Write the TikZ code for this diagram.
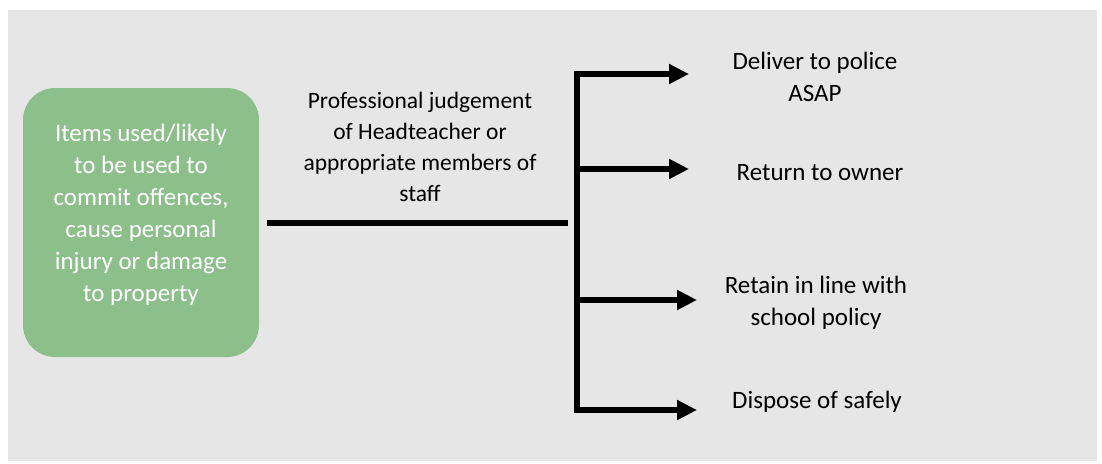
\documentclass[tikz,border=0pt]{standalone}
\usepackage{fontspec}
\setmainfont{Carlito}
\usetikzlibrary{arrows.meta}
\definecolor{bggray}{HTML}{E6E6E6}
\definecolor{boxgreen}{HTML}{8DBF8B}
\tikzset{
  txt/.style={font=\fontsize{25}{32}\selectfont, align=center, inner sep=0pt, text=black},
  midtxt/.style={txt, font=\fontsize{23.5}{31}\selectfont},
  greenbox/.style={fill=boxgreen, draw=none, rounded corners=32pt, minimum width=236pt, minimum height=269pt, inner sep=0pt},
  bar/.style={line width=6pt, line cap=butt},
  arr/.style={bar, -{Triangle[length=20pt,width=19pt]}}
}
\begin{document}
\begin{tikzpicture}[x=1pt,y=-1pt]
\useasboundingbox (0,0) rectangle (1102,463);
\fill[white] (0,0) rectangle (1102,463);
\fill[bggray] (8,10) rectangle (1097,461);

\node[greenbox] (src) at (141,222.5) {};
\node[txt, text=white] (srctext) at (141,214.5) {Items used/likely\\to be used to\\commit offences,\\cause personal\\injury or damage\\to property};

\node[midtxt] (judge) at (420,147) {Professional judgement\\of Headteacher or\\appropriate members of\\staff};

\coordinate (hstart) at (267,223);
\coordinate (hend) at (568,223);
\coordinate (btop) at (577,71);
\coordinate (bbot) at (577,413);
\coordinate (b1) at (577,74);
\coordinate (b2) at (577,169);
\coordinate (b3) at (577,300);
\coordinate (b4) at (577,410);
\coordinate (t1) at (689,74);
\coordinate (t2) at (689,169);
\coordinate (t3) at (697,300);
\coordinate (t4) at (697,410);

\draw[bar] (hstart) -- (hend);
\draw[bar] (btop) -- (bbot);
\draw[arr] (b1) -- (t1);
\draw[arr] (b2) -- (t2);
\draw[arr] (b3) -- (t3);
\draw[arr] (b4) -- (t4);

\node[txt] (o1) at (815,77) {Deliver to police\\ASAP};
\node[txt] (o2) at (820,173) {Return to owner};
\node[txt] (o3) at (816,302.5) {Retain in line with\\school policy};
\node[txt] (o4) at (817,402) {Dispose of safely};
\end{tikzpicture}
\end{document}
